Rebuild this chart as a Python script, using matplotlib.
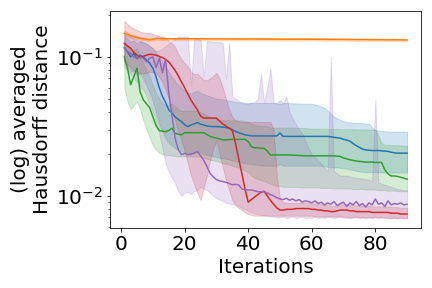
import matplotlib
matplotlib.use("Agg")
import matplotlib.pyplot as plt
import numpy as np

plt.rcParams['font.size'] = 20

# iterations 1..90, distances in units of 1e-3
ITERS = list(range(1, 91))

BLUE = [117, 109, 100, 106, 97, 103, 100, 95, 90, 83,
        72, 60, 52, 47, 41.6, 39.5, 37, 35.5, 34.3, 32.5,
        31.5, 32.4, 33, 33.7, 32.8, 32.4, 31.8, 31.6, 31.5, 31.5,
        31.4, 31.2, 31, 30.7, 30, 29, 28.5, 28, 27.5, 27.3,
        27, 27, 27, 27, 27, 27, 27, 27, 27, 28.3,
        26.8, 26.8, 26.8, 26.8, 26.8, 26.8, 26.8, 26.8, 26.8, 26.8,
        26.8, 26.8, 26.8, 26.8, 26.8, 26.6, 26.4, 26.2, 26, 25.5,
        25.2, 24.8, 23.8, 23, 22.3, 21.7, 21.4, 21.3, 21.2, 21.2,
        21.2, 21.1, 21, 20.9, 20.6, 20.4, 20.3, 20.3, 20.3, 20.3]
BLUE_LO = [92, 85, 78, 80, 74, 76, 70, 62, 55, 48,
           40, 33, 29, 26, 24, 23, 22, 21.5, 21, 20.5,
           20, 20, 20.5, 21, 20.5, 20, 19.8, 19.5, 19.3, 19,
           18.8, 18.6, 18.5, 18.3, 18, 17.8, 17.6, 17.4, 17.2, 17,
           16.9, 16.8, 16.7, 16.6, 16.5, 16.5, 16.5, 16.5, 16.5, 17,
           16.5, 16.5, 16.5, 16.5, 16.5, 16.5, 16.5, 16.5, 16.5, 16.5,
           16.5, 16.5, 16.4, 16.3, 16.2, 16.1, 16, 16, 15.9, 15.8,
           15.7, 15.5, 15.3, 15.1, 15, 14.9, 14.8, 14.8, 14.8, 14.8,
           14.8, 14.7, 14.7, 14.7, 14.7, 14.7, 14.7, 14.7, 14.7, 14.7]
BLUE_HI = [140, 135, 128, 132, 125, 130, 128, 125, 120, 115,
           108, 100, 92, 85, 78, 72, 67, 63, 60, 57,
           55, 55, 56, 57, 55, 54, 53, 52, 51, 50,
           50, 49.5, 49, 48.5, 48, 47.5, 47, 47, 46.8, 46.6,
           46.6, 46.6, 46.6, 46.6, 46.6, 46.6, 46.6, 46.6, 46.6, 49,
           46.6, 46.6, 46.5, 46.4, 46.3, 46.2, 46.1, 46, 46, 46,
           45.5, 45, 44, 43, 41, 39, 37, 36, 35.2, 34.5,
           34, 33.8, 33.6, 33.6, 33.5, 33.4, 33.2, 33, 31, 29.8,
           29.5, 29.3, 29.2, 29.1, 29, 29, 29, 29, 29, 29]

ORANGE = [148, 145, 142, 140, 138, 136, 135, 134, 133, 134,
          136, 135.5, 135, 135, 135, 135, 135, 135, 135, 135,
          135, 135, 135, 135, 135, 134.8, 134.8, 134.8, 134.8, 134.8,
          134.8, 134.8, 134.8, 134.8, 134.7, 134.7, 134.6, 134.6, 134.5, 134.5,
          134.5, 134.5, 134.4, 134.4, 134.4, 134.3, 134.3, 134.3, 134.2, 134.2,
          134.2, 134.2, 134.1, 134.1, 134.1, 134, 134, 134, 134, 134,
          134, 133.9, 133.9, 133.8, 133.8, 133.7, 133.7, 133.6, 133.6, 133.5,
          133.5, 133.4, 133.4, 133.3, 133.3, 133.2, 133.2, 133.1, 133.1, 133,
          133, 133, 132.9, 132.9, 132.8, 132.8, 132.7, 132.6, 132.5, 132.5]
ORANGE_LO = [141, 139, 137, 136, 134.5, 133, 132, 131, 130, 131,
             133, 132.5, 132, 132, 132, 132, 132, 132, 132, 132,
             132, 132, 132, 132, 132, 131.8, 131.8, 131.8, 131.8, 131.8,
             131.8, 131.8, 131.8, 131.8, 131.7, 131.7, 131.6, 131.6, 131.5, 131.5,
             131.5, 131.5, 131.4, 131.4, 131.4, 131.3, 131.3, 131.3, 131.2, 131.2,
             131.2, 131.2, 131.1, 131.1, 131.1, 131, 131, 131, 131, 131,
             131, 130.9, 130.9, 130.8, 130.8, 130.7, 130.7, 130.6, 130.6, 130.5,
             130.5, 130.4, 130.4, 130.3, 130.3, 130.2, 130.2, 130.1, 130.1, 130,
             130, 130, 129.9, 129.9, 129.8, 129.8, 129.7, 129.6, 129.5, 129.5]
ORANGE_HI = [155, 151, 147, 144.5, 142, 139.5, 138, 137, 136, 137,
             139, 138.5, 138, 138, 138, 138, 138, 138, 138, 138,
             138, 138, 138, 138, 138, 137.8, 137.8, 137.8, 137.8, 137.8,
             137.8, 137.8, 137.8, 137.8, 137.7, 137.7, 137.6, 137.6, 137.5, 137.5,
             137.5, 137.5, 137.4, 137.4, 137.4, 137.3, 137.3, 137.3, 137.2, 137.2,
             137.2, 137.2, 137.1, 137.1, 137.1, 137, 137, 137, 137, 137,
             137, 136.9, 136.9, 136.8, 136.8, 136.7, 136.7, 136.6, 136.6, 136.5,
             136.5, 136.4, 136.4, 136.3, 136.3, 136.2, 136.2, 136.1, 136.1, 136,
             136, 136, 135.9, 135.9, 135.8, 135.8, 135.7, 135.6, 135.5, 135.5]

GREEN = [100, 83, 63, 72, 83, 56, 49, 46, 43, 37,
         32, 29.5, 29.2, 29, 29.5, 30.7, 28.2, 27.8, 27.5, 28.5,
         28.5, 28.5, 28.5, 28.5, 28.5, 28.5, 27.6, 26.8, 26.4, 26,
         25.7, 25.3, 25.3, 25.4, 25.5, 25.5, 25.5, 25.5, 25.5, 24.6,
         22.6, 22.2, 22.2, 22, 22, 21, 19.7, 19.7, 19.7, 19.7,
         19.7, 19.7, 19.7, 19.6, 19.6, 19.5, 19.5, 19.4, 19.4, 19.4,
         19.4, 19.4, 19.4, 19.4, 19.4, 19.4, 19.4, 19.3, 19.2, 18.7,
         18.5, 18.2, 18, 17.8, 17.7, 17.6, 17.5, 17.5, 17.5, 17.4,
         17.4, 17.4, 15.4, 14.4, 13.9, 13.9, 13.8, 13.6, 13.4, 13.2]
GREEN_LO = [60, 48, 42, 45, 48, 42, 35, 30, 26, 23,
            21.4, 20.5, 20, 19.7, 19.7, 19.5, 19.3, 19.2, 19.2, 19.2,
            19.2, 19.2, 19.2, 19.2, 19, 18.8, 18.5, 18.2, 18, 17.8,
            17.5, 17.2, 17, 16.8, 16.5, 16.2, 16, 15.6, 15.2, 14.8,
            14, 13.5, 13.2, 13, 12.8, 12.5, 12.2, 12, 11.8, 11.7,
            11.6, 11.6, 11.6, 11.6, 11.6, 11.5, 11.5, 11.5, 11.5, 11.5,
            11.5, 11.5, 11.4, 11.4, 11.4, 11.4, 11.3, 11.3, 11.3, 11.3,
            11.3, 11.3, 11.2, 11.2, 11.2, 11.2, 11.1, 11.1, 11.1, 11.1,
            11, 11, 11, 10.9, 10.9, 10.9, 10.8, 10.8, 10.8, 10.8]
GREEN_HI = [130, 120, 110, 112, 115, 100, 90, 80, 72, 62,
            55, 50, 47, 45, 45, 46, 44, 42, 41, 41,
            41, 41, 41, 41, 40, 39, 38, 37, 36.5, 36,
            35.5, 35, 35, 35, 35, 35, 35, 35, 34.5, 34,
            33, 32.5, 32, 32, 32, 31.5, 31, 31, 31, 31,
            31, 31, 31, 30.9, 30.9, 30.8, 30.8, 30.7, 30.6, 30.5,
            30.5, 30.5, 30.4, 30.4, 30.4, 30.3, 30.3, 30.3, 30.2, 30.2,
            30.2, 30.2, 30.2, 30.1, 30.1, 30.1, 30, 30, 30, 30,
            27, 24, 23.3, 23.3, 23.2, 23.2, 23.1, 23.1, 23, 23]

RED = [125, 120, 115.5, 108, 103, 99, 101, 103, 104.5, 104,
       103, 101, 99, 96, 92, 86, 80, 73, 66, 60,
       54, 49, 45, 41.6, 37.5, 36.3, 36.3, 36.3, 36.3, 36.3,
       34.5, 33, 31.8, 30.7, 29.5, 24, 18.5, 14.5, 11.2, 9.0,
       9.4, 9.8, 10.2, 10.6, 10.8, 10, 9.3, 8.7, 8.2, 7.9,
       7.9, 8.0, 8.0, 8.0, 8.1, 8.1, 8.1, 8.1, 8.1, 8.0,
       8.0, 7.9, 7.9, 7.8, 7.8, 7.7, 7.7, 7.8, 7.9, 7.9,
       7.9, 7.8, 7.8, 7.7, 7.7, 7.7, 7.7, 7.7, 7.6, 7.6,
       7.6, 7.6, 7.6, 7.6, 7.5, 7.5, 7.5, 7.4, 7.4, 7.4]
RED_LO = [92, 88, 84, 80, 78, 76, 76, 77, 78, 78,
          76, 72, 66, 58, 50, 42, 35, 29, 25, 21,
          17, 14, 12, 10.5, 9.3, 11.5, 14, 18, 22, 25,
          20, 16, 13, 11, 9.3, 8.6, 8.2, 7.9, 7.6, 7.4,
          7.3, 7.2, 7.2, 7.2, 7.2, 7.2, 7.2, 7.2, 7.2, 7.2,
          7.2, 7.2, 7.2, 7.2, 7.2, 7.2, 7.2, 7.2, 7.2, 7.2,
          7.1, 7.1, 7.1, 7.1, 7.1, 7.1, 7.1, 7.1, 7.1, 7.1,
          7.0, 7.0, 7.0, 7.0, 7.0, 7.0, 7.0, 7.0, 7.0, 7.0,
          7.0, 7.0, 7.0, 6.9, 6.9, 6.9, 6.9, 6.9, 6.9, 6.9]
RED_HI = [182, 172, 165, 160, 156, 152, 150, 149, 148, 146,
          144, 141, 140, 138, 130, 125, 118, 105, 96, 90,
          85, 78, 75, 76, 72, 68, 68, 70, 73, 77,
          70, 60, 50, 42, 37, 35, 34.5, 34, 34, 34,
          34, 34, 34, 34, 34, 34, 34, 30, 14, 9.5,
          9.0, 8.9, 8.9, 8.9, 8.9, 8.9, 8.9, 8.9, 8.9, 8.8,
          8.8, 8.7, 8.7, 8.6, 8.6, 8.5, 8.5, 8.6, 8.7, 8.7,
          8.7, 8.6, 8.6, 8.5, 8.5, 8.5, 8.5, 8.5, 8.4, 8.4,
          8.4, 8.4, 8.4, 8.4, 8.3, 8.3, 8.3, 8.2, 8.2, 8.2]

PURPLE = [115.5, 110, 106, 100, 98, 99, 98, 92, 98, 100,
          84, 98, 77, 96, 55, 38, 26, 21.5, 19.8, 20.2,
          19.8, 20, 20.3, 20.8, 19.5, 18, 16.3, 14.5, 13.7, 13.1,
          12.8, 12.7, 12.5, 12.3, 12, 12.1, 12, 11.2, 11.1, 11,
          11, 10.9, 10.7, 10.7, 10.7, 10.5, 10.2, 10, 9.7, 9.5,
          9.4, 9.6, 9.3, 9.5, 9.2, 9.4, 9.0, 9.2, 9.1, 8.9,
          9.2, 8.8, 9.0, 8.6, 8.9, 8.7, 9.1, 8.5, 8.8, 9.0,
          8.4, 8.9, 8.6, 9.1, 8.5, 8.8, 8.3, 8.9, 8.6, 9.5,
          8.7, 8.9, 8.4, 9.2, 8.6, 8.8, 8.7, 8.9, 8.6, 8.7]
PURPLE_LO = [85, 80, 75, 70, 66, 62, 58, 52, 46, 40,
             34, 28, 22, 17, 15, 13.5, 12.3, 10.8, 10, 10.5,
             10.7, 10.3, 10.8, 11, 11.6, 11.2, 11, 10.5, 10, 9.6,
             9.4, 9.2, 8.9, 8.8, 8.7, 8.6, 8.4, 8.2, 8.0, 7.8,
             7.6, 7.5, 7.4, 7.3, 7.2, 7.2, 7.1, 7.1, 7.0, 7.0,
             7.1, 6.9, 7.0, 7.1, 6.9, 7.0, 7.1, 6.9, 7.0, 6.9,
             7.1, 6.9, 7.0, 6.9, 7.1, 7.0, 6.9, 7.0, 7.1, 6.9,
             7.0, 6.9, 7.0, 7.1, 6.9, 7.0, 6.9, 7.0, 6.9, 7.1,
             6.9, 7.0, 6.9, 7.0, 6.9, 7.0, 6.9, 7.0, 6.9, 6.9]
PURPLE_HI = [145, 142, 140, 136, 133, 130, 128, 125, 120, 115,
             110, 112, 115, 120, 125, 130, 135, 140, 140, 140,
             140, 62, 138, 135, 133, 72, 130, 130, 128, 128,
             128, 126, 70, 126, 52, 50, 48, 47, 46, 46,
             47, 47, 50, 76, 47, 60, 83, 47, 46, 46,
             46, 52, 40, 36, 33, 30, 28, 25, 22, 20,
             19, 18, 17, 16, 15, 100, 15, 14.5, 14, 14,
             14, 13.8, 13.6, 13.5, 13.4, 13.3, 13.2, 13, 12.8, 49,
             12.5, 12.2, 12, 11.8, 11.6, 11.4, 11.2, 11.1, 11, 11]

SERIES = [
    (BLUE, BLUE_LO, BLUE_HI, 'C0'),
    (ORANGE, ORANGE_LO, ORANGE_HI, 'C1'),
    (GREEN, GREEN_LO, GREEN_HI, 'C2'),
    (RED, RED_LO, RED_HI, 'C3'),
    (PURPLE, PURPLE_LO, PURPLE_HI, 'C4'),
]

fig, ax = plt.subplots(figsize=(6, 4), dpi=72)
x = np.array(ITERS)
for mean, lo, hi, color in SERIES:
    ax.plot(x, np.array(mean) * 1e-3, color=color)
    ax.fill_between(x, np.array(lo) * 1e-3, np.array(hi) * 1e-3, color=color, alpha=0.2)

ax.set_yscale('log')
ax.set_xlabel('Iterations')
ax.set_ylabel('(log) averaged\nHausdorff distance')
ax.set_xticks([0, 20, 40, 60, 80])

fig.subplots_adjust(left=0.255, right=0.975, bottom=0.208, top=0.962)
fig.savefig('out.png', dpi=72)
